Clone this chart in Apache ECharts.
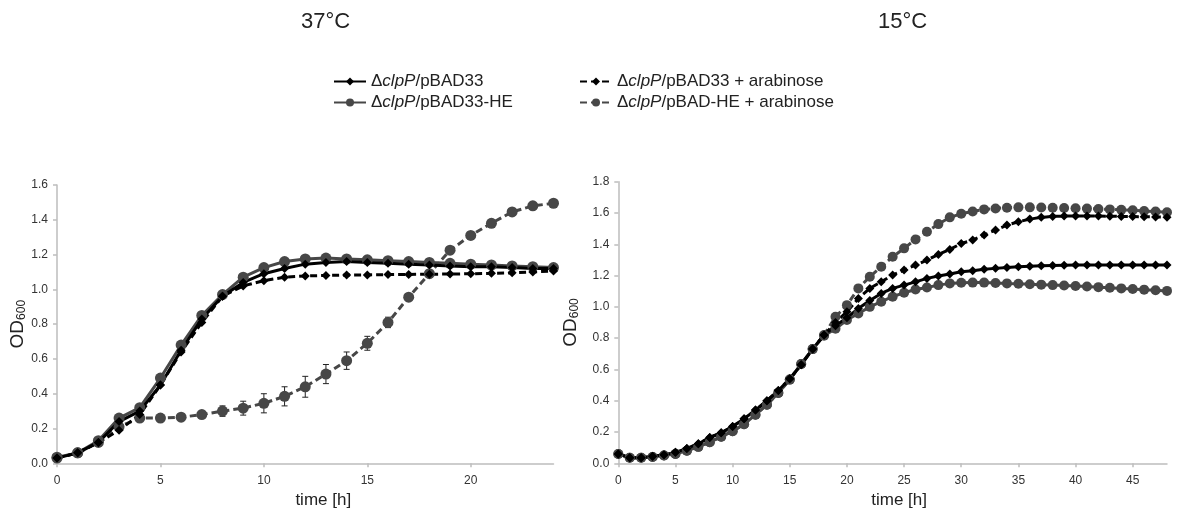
<!DOCTYPE html>
<html><head><meta charset="utf-8">
<script src="https://cdn.jsdelivr.net/npm/echarts@6/dist/echarts.min.js"></script>
<style>html,body{margin:0;padding:0;background:#fff}#c{width:1192px;height:518px}</style>
</head><body><div id="c"></div>
<script>
// ---------- DATA ----------
const names = ['ΔclpP/pBAD33', 'ΔclpP/pBAD33-HE', 'ΔclpP/pBAD33 + arabinose', 'ΔclpP/pBAD-HE + arabinose'];
const panelTitles = ['37°C', '15°C'];
const xTitle = 'time [h]';

// 37 °C panel (hourly 0..24)
const hours37 = [0,1,2,3,4,5,6,7,8,9,10,11,12,13,14,15,16,17,18,19,20,21,22,23,24];
const pBAD33_37      = [0.03,0.06,0.12,0.24,0.30,0.45,0.65,0.83,0.96,1.04,1.09,1.12,1.145,1.155,1.16,1.155,1.15,1.145,1.14,1.135,1.13,1.13,1.125,1.12,1.12];
const pBAD33HE_37    = [0.035,0.06,0.13,0.26,0.32,0.49,0.68,0.85,0.97,1.07,1.125,1.16,1.175,1.18,1.175,1.17,1.165,1.16,1.155,1.15,1.145,1.14,1.135,1.13,1.125];
const pBAD33ara_37   = [0.03,0.06,0.12,0.19,0.28,0.45,0.64,0.81,0.96,1.02,1.05,1.07,1.077,1.08,1.082,1.083,1.085,1.086,1.087,1.088,1.09,1.092,1.095,1.1,1.105];
const pBADHEara_37   = [0.03,0.06,0.12,0.21,0.26,0.26,0.265,0.28,0.30,0.317,0.345,0.385,0.44,0.513,0.59,0.69,0.81,0.955,1.09,1.225,1.31,1.38,1.445,1.48,1.495];
const pBADHEaraErr_37= [0.005,0.005,0.01,0.01,0.01,0.01,0.012,0.02,0.03,0.04,0.055,0.055,0.06,0.055,0.05,0.04,0.03,0.02,0.02,0.02,0.02,0.02,0.02,0.02,0.02];

// 15 °C panel (hourly 0..48)
const hours15 = [0,1,2,3,4,5,6,7,8,9,10,11,12,13,14,15,16,17,18,19,20,21,22,23,24,25,26,27,28,29,30,31,32,33,34,35,36,37,38,39,40,41,42,43,44,45,46,47,48];
const pBAD33_15    = [0.06,0.035,0.035,0.045,0.055,0.07,0.095,0.125,0.165,0.195,0.235,0.285,0.34,0.40,0.465,0.54,0.63,0.73,0.82,0.88,0.93,0.99,1.04,1.086,1.118,1.139,1.16,1.182,1.197,1.21,1.224,1.231,1.24,1.246,1.252,1.256,1.26,1.263,1.265,1.266,1.267,1.267,1.268,1.268,1.268,1.268,1.268,1.268,1.268];
const pBAD33HE_15  = [0.06,0.035,0.035,0.04,0.05,0.06,0.08,0.105,0.135,0.17,0.205,0.25,0.31,0.375,0.45,0.535,0.635,0.73,0.815,0.86,0.916,0.958,1.0,1.033,1.065,1.09,1.111,1.124,1.139,1.15,1.154,1.155,1.155,1.153,1.15,1.148,1.145,1.142,1.139,1.136,1.133,1.13,1.126,1.122,1.118,1.114,1.11,1.106,1.102];
const pBAD33ara_15 = [0.06,0.035,0.035,0.045,0.055,0.07,0.095,0.125,0.165,0.195,0.235,0.285,0.34,0.40,0.465,0.54,0.63,0.73,0.82,0.90,0.969,1.054,1.118,1.16,1.203,1.235,1.267,1.299,1.335,1.367,1.405,1.427,1.459,1.491,1.523,1.544,1.561,1.572,1.578,1.58,1.58,1.58,1.58,1.579,1.578,1.577,1.576,1.575,1.573];
const pBADHEara_15 = [0.06,0.035,0.035,0.04,0.05,0.06,0.08,0.105,0.135,0.17,0.205,0.25,0.31,0.375,0.45,0.535,0.635,0.73,0.82,0.937,1.011,1.118,1.192,1.256,1.32,1.374,1.431,1.48,1.529,1.572,1.595,1.61,1.623,1.629,1.634,1.636,1.636,1.635,1.634,1.632,1.63,1.628,1.626,1.623,1.62,1.617,1.613,1.609,1.605];
const lineTail15 = 50; // the plotted lines run on past the last hour (to the figure edge)

const yTicks37 = {min: 0, max: 1.6, step: 0.2};
const yTicks15 = {min: 0, max: 1.8, step: 0.2};
const xTicks37 = {min: 0, max: 24, step: 5};
const xTicks15 = {min: 0, max: 48, step: 5};

// ---------- STYLE ----------
const FONT = 'Liberation Sans, Arial, Helvetica, sans-serif';
const BLACK = '#000000';
const GRAY = '#474747';
const AXIS = '#bdbdbd';
const DASH = [7, 4];

function pairs(xs, ys) { return xs.map((x, i) => [x, ys[i]]); }
function pairsWithTail(xs, ys, tail) {
  const d = pairs(xs, ys);
  d.push({value: [tail, ys[ys.length - 1]], symbol: 'none'});
  return d;
}

function lineSeries(name, data, idx, color, symbol, size, dashed, clip) {
  return {
    type: 'line', name, data, xAxisIndex: idx, yAxisIndex: idx,
    symbol, symbolSize: symbol === 'diamond' ? [size, size] : size,
    showSymbol: true, clip: clip !== false,
    itemStyle: {color, borderWidth: 0},
    lineStyle: {color, width: 3, type: dashed ? DASH : 'solid'},
    emphasis: {disabled: true}, animation: false
  };
}

const axisCommon = {
  axisLine: {show: true, lineStyle: {color: AXIS, width: 1.5}},
  axisTick: {show: true, length: 4, lineStyle: {color: AXIS, width: 1.5}},
  splitLine: {show: false},
};

function xAxis(idx, t, nameShift) {
  return Object.assign({
    type: 'value', gridIndex: idx, min: t.min, max: t.max, interval: t.step,
    name: xTitle, nameLocation: 'middle', nameGap: 29,
    nameTextStyle: {fontFamily: FONT, fontSize: 17, color: '#222', padding: [0, 0, 0, nameShift]},
    axisLabel: {fontFamily: FONT, fontSize: 12, color: '#333', margin: 11, showMaxLabel: false}
  }, axisCommon);
}
function yAxis(idx, t, gap) {
  return Object.assign({
    type: 'value', gridIndex: idx, min: t.min, max: t.max, interval: t.step,
    name: '{a|OD}{s|600}', nameLocation: 'middle', nameRotate: 90, nameGap: gap,
    nameTextStyle: {
      color: '#222',
      rich: {
        a: {fontFamily: FONT, fontSize: 19, color: '#222', lineHeight: 24, verticalAlign: 'bottom'},
        s: {fontFamily: FONT, fontSize: 12, color: '#222', lineHeight: 12, verticalAlign: 'bottom'}
      }
    },
    axisLabel: {fontFamily: FONT, fontSize: 12, color: '#333', margin: 9, formatter: v => v.toFixed(1)}
  }, axisCommon);
}

const legendRich = {
  n: {fontFamily: FONT, fontSize: 17, color: '#222'},
  i: {fontFamily: FONT, fontSize: 17, color: '#222', fontStyle: 'italic'}
};
function legendFmt(name) {
  const p = name.split('clpP');
  return '{n|' + p[0] + '}{i|clpP}{n|' + p[1] + '}';
}
function legend(items, left) {
  return {
    data: items, orient: 'vertical', left, top: 73, padding: 0, itemWidth: 32, itemHeight: 10, itemGap: 4,
    formatter: legendFmt, textStyle: {rich: legendRich}, selectedMode: false
  };
}

const chart = echarts.init(document.getElementById('c'), null, {renderer: 'canvas'});

const errData = hours37.map((h, i) => [h, pBADHEara_37[i], pBADHEaraErr_37[i]]);

chart.setOption({
  backgroundColor: '#ffffff',
  animation: false,
  graphic: [
    {type: 'text', left: 301, top: 11, style: {text: panelTitles[0], font: '22px ' + FONT, fill: '#222'}},
    {type: 'text', left: 878, top: 11, style: {text: panelTitles[1], font: '22px ' + FONT, fill: '#222'}}
  ],
  legend: [legend([names[0], names[1]], 333), legend([names[2], names[3]], 579)],
  grid: [
    {left: 57, top: 185, width: 496.5, height: 278.3},
    {left: 618.3, top: 181.7, width: 548.7, height: 281.6}
  ],
  xAxis: [xAxis(0, xTicks37, 36), xAxis(1, xTicks15, 13)],
  yAxis: [yAxis(0, yTicks37, 28), yAxis(1, yTicks15, 38)],
  series: [
    {
      type: 'custom', name: 'err', xAxisIndex: 0, yAxisIndex: 0, data: errData, z: 1,
      renderItem: function (params, api) {
        const x = api.value(0), y = api.value(1), e = api.value(2);
        const top = api.coord([x, y + e]), bot = api.coord([x, y - e]);
        const w = 3, st = {stroke: '#222', lineWidth: 1};
        return {type: 'group', children: [
          {type: 'line', shape: {x1: top[0], y1: top[1], x2: bot[0], y2: bot[1]}, style: st},
          {type: 'line', shape: {x1: top[0] - w, y1: top[1], x2: top[0] + w, y2: top[1]}, style: st},
          {type: 'line', shape: {x1: bot[0] - w, y1: bot[1], x2: bot[0] + w, y2: bot[1]}, style: st}
        ]};
      },
      silent: true, animation: false
    },
    lineSeries(names[3], pairs(hours37, pBADHEara_37), 0, GRAY, 'circle', 11, true),
    lineSeries(names[1], pairs(hours37, pBAD33HE_37), 0, GRAY, 'circle', 11, false),
    lineSeries(names[2], pairs(hours37, pBAD33ara_37), 0, BLACK, 'diamond', 9, true),
    lineSeries(names[0], pairs(hours37, pBAD33_37), 0, BLACK, 'diamond', 9, false),

    lineSeries(names[1], pairsWithTail(hours15, pBAD33HE_15, lineTail15), 1, GRAY, 'circle', 10, false, false),
    lineSeries(names[3], pairsWithTail(hours15, pBADHEara_15, lineTail15), 1, GRAY, 'circle', 10, true, false),
    lineSeries(names[0], pairsWithTail(hours15, pBAD33_15, lineTail15), 1, BLACK, 'diamond', 9, false, false),
    lineSeries(names[2], pairsWithTail(hours15, pBAD33ara_15, lineTail15), 1, BLACK, 'diamond', 9, true, false)
  ]
});
</script>
</body></html>
